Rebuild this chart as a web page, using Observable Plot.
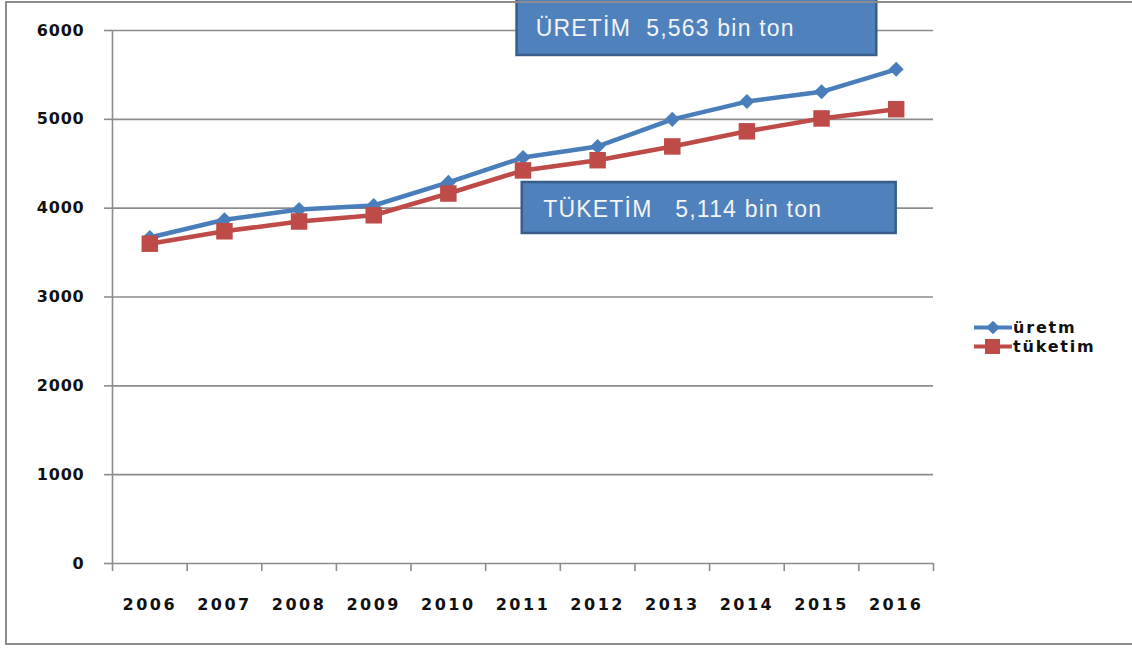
<!DOCTYPE html>
<html>
<head>
<meta charset="utf-8">
<script src="https://cdn.jsdelivr.net/npm/d3@7"></script>
<script src="https://cdn.jsdelivr.net/npm/@observablehq/plot@0.6"></script>
<style>
  html, body { margin: 0; padding: 0; background: #fff; }
  #wrap { position: relative; width: 1132px; height: 648px; overflow: hidden; }
  #frame { position: absolute; left: 5px; top: 1px; width: 1140px; height: 644px; border: 2px solid #8c8c8c; box-sizing: border-box; pointer-events: none; }
  #legend { position: absolute; left: 972px; top: 318px; font: bold 16px "DejaVu Sans", sans-serif; letter-spacing: 1.8px; color: #111; }
  #legend div { display: flex; align-items: center; height: 19px; }
  #legend svg { margin-right: 1px; }
</style>
</head>
<body>
<div id="wrap">
  <div id="chart"></div>
  <div id="legend"></div>
  <div id="frame"></div>
</div>
<script>
const years = [2006, 2007, 2008, 2009, 2010, 2011, 2012, 2013, 2014, 2015, 2016];
const uretim = [3670, 3870, 3985, 4030, 4290, 4570, 4695, 5000, 5200, 5310, 5563];
const tuketim = [3600, 3740, 3850, 3920, 4165, 4425, 4540, 4695, 4865, 5010, 5114];
const yTicks = [0, 1000, 2000, 3000, 4000, 5000, 6000];
const seriesNames = ["üretm", "tüketim"];
const seriesColors = ["#4a7ebb", "#be4b48"];
const annotations = [
  {label: "ÜRETİM  5,563 bin ton", x1: 2010.92, x2: 2015.74, y1: 5719, y2: 6400, tx: 2011.17, ty: 6023},
  {label: "TÜKETİM   5,114 bin ton", x1: 2010.99, x2: 2016.0, y1: 3715, y2: 4289, tx: 2011.27, ty: 3985}
];

const rows = [];
years.forEach((yr, i) => {
  rows.push({year: yr, value: uretim[i], series: seriesNames[0]});
  rows.push({year: yr, value: tuketim[i], series: seriesNames[1]});
});
const xMin = years[0] - 0.5, xMax = years[years.length - 1] + 0.5;
const bandEdges = d3.range(years.length + 1).map(i => xMin + i);
const axisFont = {fontFamily: "DejaVu Sans, sans-serif", fontWeight: "bold", fontSize: 16, fill: "#111"};

const chart = Plot.plot({
  width: 1132,
  height: 648,
  marginLeft: 112,
  marginRight: 199,
  marginTop: 30,
  marginBottom: 85,
  style: {background: "transparent", fontFamily: "DejaVu Sans, sans-serif"},
  x: {domain: [xMin, xMax], axis: null},
  y: {domain: [0, 6000], axis: null},
  marks: [
    Plot.ruleY(yTicks.filter(d => d > 0), {x1: xMin, x2: xMax, stroke: "#8c8c8c", strokeWidth: 1.6}),
    Plot.ruleY([0], {x1: xMin, x2: xMax, stroke: "#8c8c8c", strokeWidth: 1.6}),
    Plot.ruleX([xMin], {y1: 0, y2: 6000, stroke: "#8c8c8c", strokeWidth: 1.6}),
    Plot.axisY({ticks: yTicks, tickSize: 8, tickPadding: 20, tickFormat: d => String(d), stroke: "#8c8c8c", strokeWidth: 1.6, ...axisFont}),
    Plot.axisX({ticks: bandEdges, tickSize: 8, tickFormat: () => "", stroke: "#8c8c8c", strokeWidth: 1.6}),
    Plot.axisX({ticks: years, tickSize: 0, tickPadding: 35, tickFormat: d => String(d), ...axisFont}),
    Plot.line(rows, {x: "year", y: "value", z: "series", stroke: d => d.series === seriesNames[0] ? seriesColors[0] : seriesColors[1], strokeWidth: 4.5}),
    Plot.dot(rows.filter(d => d.series === seriesNames[0]), {x: "year", y: "value", symbol: "diamond2", r: 6.8, fill: seriesColors[0], stroke: "none"}),
    Plot.dot(rows.filter(d => d.series === seriesNames[1]), {x: "year", y: "value", symbol: "square", r: 9.3, fill: seriesColors[1], stroke: "none"}),
    Plot.rect(annotations, {x1: "x1", x2: "x2", y1: "y1", y2: "y2", fill: "#4f81bd", stroke: "#385d8a", strokeWidth: 2.5}),
    Plot.text(annotations, {x: "tx", y: "ty", text: "label", textAnchor: "start", fill: "#f4f4f4", fontSize: 23, fontFamily: "Liberation Sans, Arial, sans-serif", lineAnchor: "middle"})
  ]
});
// letter spacing tweaks
d3.select(chart).selectAll("g[aria-label='y-axis tick label']").attr("letter-spacing", "0.8px");
d3.select(chart).selectAll("g[aria-label='x-axis tick label']").attr("letter-spacing", "2.5px");
d3.select(chart).selectAll("g[aria-label='text']").attr("letter-spacing", "1.2px");
document.getElementById("chart").appendChild(chart);

// Legend
const legend = d3.select("#legend");
seriesNames.forEach((name, i) => {
  const row = legend.append("div");
  const svg = row.append("svg").attr("width", 40).attr("height", 19);
  svg.append("line").attr("x1", 2).attr("x2", 40).attr("y1", 9.5).attr("y2", 9.5)
    .attr("stroke", seriesColors[i]).attr("stroke-width", 4);
  if (i === 0) {
    svg.append("path").attr("d", d3.symbol(d3.symbolDiamond2, 120)()).attr("transform", "translate(21,9.5)").attr("fill", seriesColors[i]);
  } else {
    svg.append("rect").attr("x", 13).attr("y", 2).attr("width", 15).attr("height", 15).attr("fill", seriesColors[i]);
  }
  row.append("span").text(name);
});
</script>
</body>
</html>
